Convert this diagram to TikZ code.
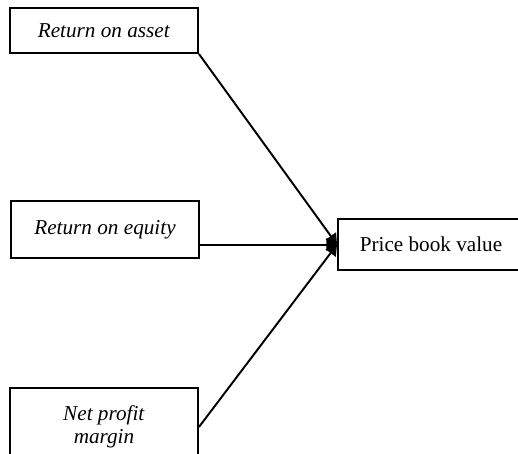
\documentclass[tikz,border=0pt]{standalone}
\usepackage{fontspec}
\setmainfont{Liberation Serif}
\usetikzlibrary{calc,arrows.meta}

\begin{document}
\begin{tikzpicture}[x=0.566pt,y=-0.566pt,line width=1.1pt,
	box/.style={draw,rectangle,inner sep=0pt,align=center,font=\fontsize{12}{13}\selectfont},
	link/.style={-{Triangle[length=6pt,width=7pt]}}]
	\useasboundingbox (0,0) rectangle (518,454);

	\node[box,minimum width=188*0.566pt,minimum height=45*0.566pt] (roa) at (104,30.5){\textit{Return on asset}};
	\node[box,minimum width=188*0.566pt,minimum height=57*0.566pt] (roe) at (105,229.5){\textit{Return on equity}};
	\node[box,minimum width=188*0.566pt,minimum height=78*0.566pt] (npm) at (104,427){\textit{Net profit}\\\textit{margin}};
	\node[box,minimum width=186*0.566pt,minimum height=51*0.566pt] (pbv) at (431,244.6){Price book value};

	%edges into price book value
	\draw[link] (roa.south east) -- (pbv.west);
	\draw[link] (roe.east |- pbv.west) -- (pbv.west);
	\draw[link] (npm.east) -- (pbv.west);
\end{tikzpicture}
\end{document}
